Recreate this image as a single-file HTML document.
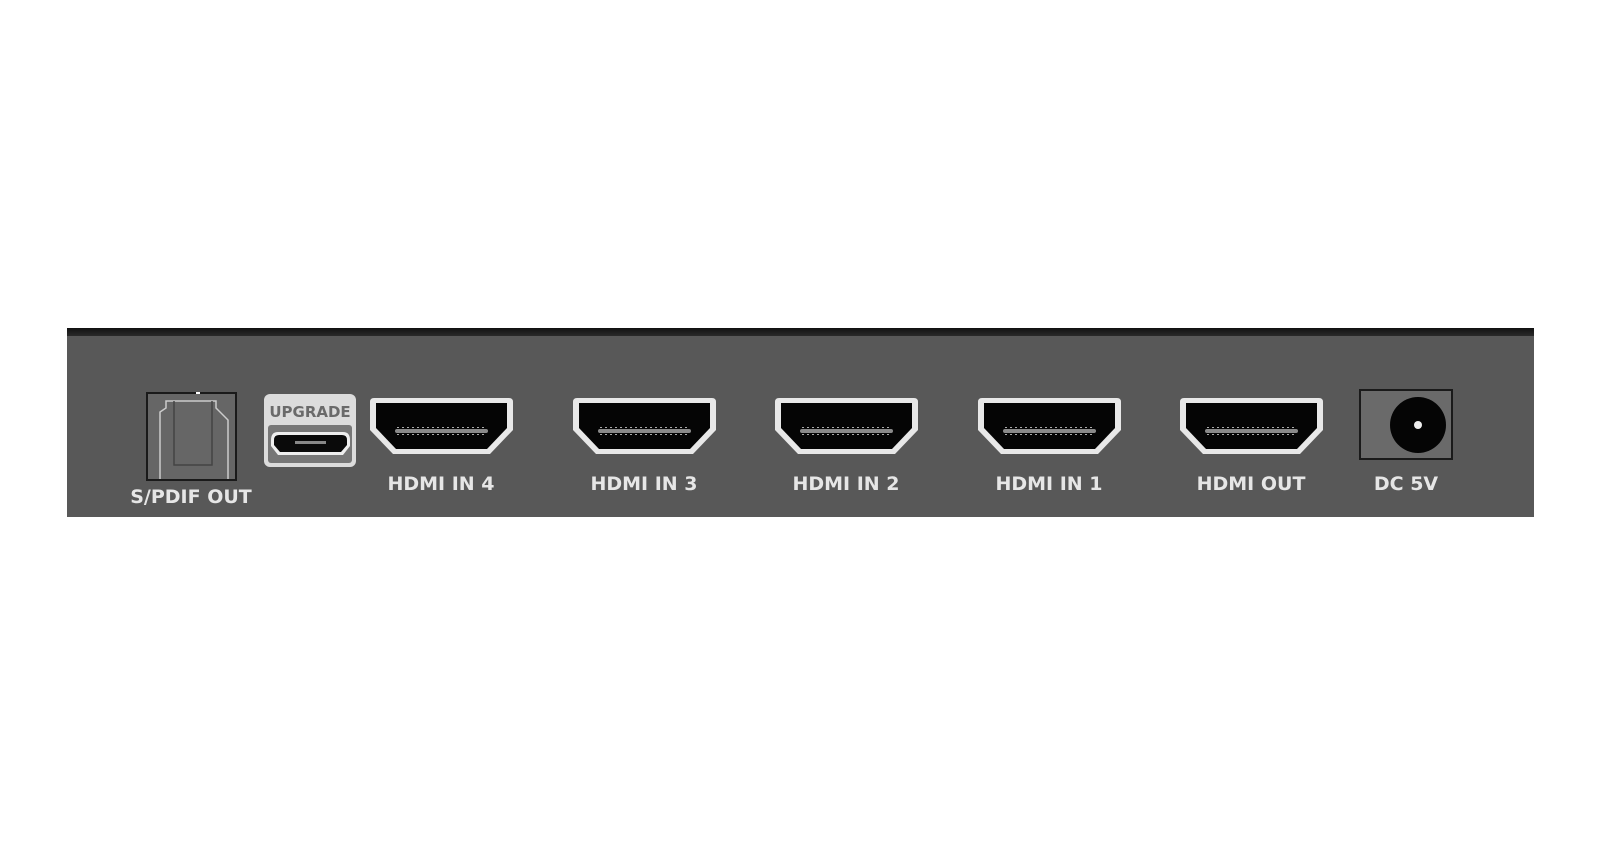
<!DOCTYPE html>
<html><head><meta charset="utf-8"><style>
html,body{margin:0;padding:0;background:#fff;width:1600px;height:844px;overflow:hidden}
svg{display:block}
text{font-family:"DejaVu Sans","Liberation Sans",sans-serif;font-weight:bold;fill:#e6e6e6}
</style></head><body>
<svg width="1600" height="844" viewBox="0 0 1600 844">
<defs>
<linearGradient id="top" x1="0" y1="0" x2="0" y2="1">
<stop offset="0" stop-color="#111"/><stop offset="1" stop-color="#2a2a2a"/></linearGradient>
<g id="hdmi">
<path d="M4,0 H139 Q143,0 143,4 V32 L120,56 H23 L0,32 V4 Q0,0 4,0 Z" fill="#e8e8e8"/>
<path d="M6,5 H137 V30 L117,51 H26 L6,30 Z" fill="#050505"/>
<rect x="25" y="31" width="93" height="4" rx="2" fill="#8a8a8a"/>
<line x1="27" y1="29.5" x2="116" y2="29.5" stroke="#aaa" stroke-width="1" stroke-dasharray="2 3"/>
<line x1="27" y1="36.5" x2="116" y2="36.5" stroke="#aaa" stroke-width="1" stroke-dasharray="2 3"/>
</g>
</defs>
<rect x="67" y="335" width="1467" height="182" fill="#585858"/>
<rect x="67" y="328" width="1467" height="8" fill="url(#top)"/>
<!-- SPDIF -->
<rect x="146" y="392" width="91" height="89" fill="#1a1a1a"/>
<rect x="148" y="394" width="87" height="85" fill="#666"/>
<path d="M160,479 V412 L166,408 V401 H216 V408 L228,420 V479" fill="none" stroke="#ccc" stroke-width="1.5"/>
<path d="M174,401 V465 H212 V401" fill="none" stroke="#444" stroke-width="1.5"/>
<rect x="196" y="392" width="4" height="2" fill="#fff"/>
<text x="191" y="503" font-size="19" text-anchor="middle">S/PDIF OUT</text>
<!-- Upgrade -->
<rect x="264" y="394" width="92" height="73" rx="6" fill="#dcdcdc"/>
<rect x="268" y="425" width="84" height="38" rx="3" fill="#777"/>
<path d="M278,432 H343 Q350,432 350,440 V446 L343,455 H278 L271,446 V440 Q271,432 278,432 Z" fill="#eee"/>
<path d="M279,435 H342 Q347,435 347,440 V445 L341,452 H280 L274,445 V440 Q274,435 279,435 Z" fill="#0a0a0a"/>
<rect x="295" y="441" width="31" height="3" fill="#888"/>
<text x="310" y="417" font-size="15" text-anchor="middle" style="fill:#6a6a6a">UPGRADE</text>
<!-- HDMI -->
<use href="#hdmi" x="370" y="398"/>
<use href="#hdmi" x="573" y="398"/>
<use href="#hdmi" x="775" y="398"/>
<use href="#hdmi" x="978" y="398"/>
<use href="#hdmi" x="1180" y="398"/>
<text x="441" y="490" font-size="19" text-anchor="middle">HDMI IN 4</text>
<text x="644" y="490" font-size="19" text-anchor="middle">HDMI IN 3</text>
<text x="846" y="490" font-size="19" text-anchor="middle">HDMI IN 2</text>
<text x="1049" y="490" font-size="19" text-anchor="middle">HDMI IN 1</text>
<text x="1251" y="490" font-size="19" text-anchor="middle">HDMI OUT</text>
<!-- DC -->
<rect x="1359" y="389" width="94" height="71" fill="#1a1a1a"/>
<rect x="1361" y="391" width="90" height="67" fill="#6a6a6a"/>
<circle cx="1418" cy="425" r="28" fill="#050505"/>
<circle cx="1418" cy="425" r="4" fill="#eee"/>
<text x="1406" y="490" font-size="19" text-anchor="middle">DC 5V</text>
</svg>
</body></html>
